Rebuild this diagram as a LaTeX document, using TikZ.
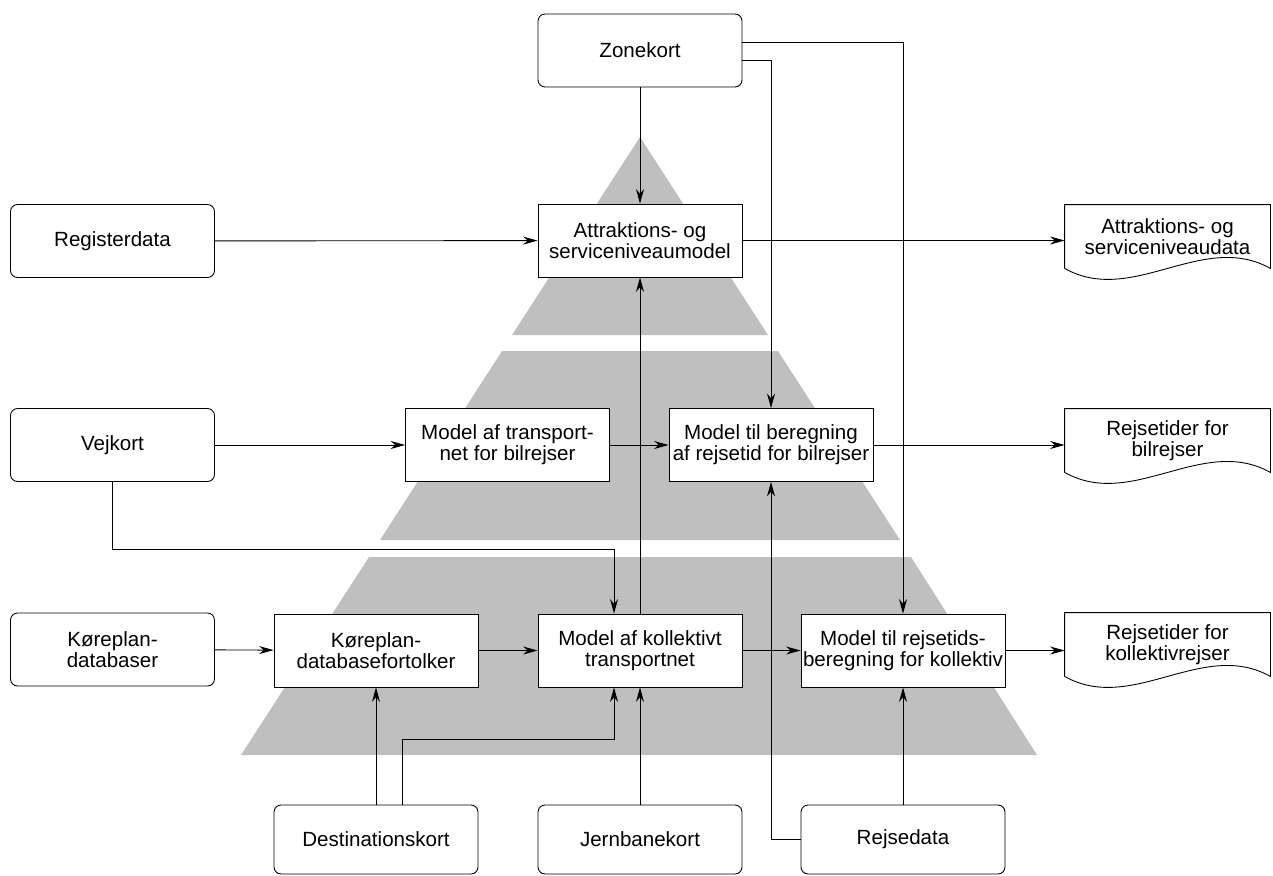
\documentclass[tikz,border=0pt]{standalone}
\usepackage{fontspec}
\setmainfont{Liberation Sans}
\usetikzlibrary{arrows.meta}

\tikzstyle{modelblock} = [rectangle, minimum width=4.08cm, minimum height=1.46cm, inner xsep=1pt, text centered, align=center, draw=black, fill=white, line width=0.5pt, font=\fontsize{11.7}{12}\selectfont]
\tikzstyle{srcblock} = [modelblock, rounded corners=4pt]
\tikzstyle{endblock} = [srcblock, minimum height=1.38cm]
\tikzstyle{docblock} = [modelblock, draw=none, fill=none, minimum width=4.1cm, minimum height=1.26cm]
\tikzstyle{band} = [fill=black!25, draw=none]
\tikzstyle{flow} = [->, >={Stealth[length=2.9mm,width=1.6mm]}, draw=black, line width=0.5pt]
\tikzstyle{lineflow} = [-, draw=black, line width=0.5pt]

\begin{document}
\begin{tikzpicture}[x=0.02cm, y=-0.02cm]
    \useasboundingbox (0,0) rectangle (1273,875);

    % pyramid
    \fill[band] (640,137) -- (768,335) -- (512,335) -- cycle;
    \fill[band] (502,351) -- (778,351) -- (900,540) -- (380,540) -- cycle;
    \fill[band] (369,557) -- (911,557) -- (1037,755) -- (241,755) -- cycle;

    \node (zone) [srcblock] at (640,50.5) {Zonekort};
    \node (reg) [srcblock] at (112.5,241) {Registerdata};
    \node (vej) [srcblock] at (112.5,445) {Vejkort};
    \node (kdb) [srcblock] at (112.5,649.5) {Køreplan-\\databaser};

    \node (attr) [modelblock] at (640,240.5) {Attraktions- og\\serviceniveaumodel};
    \node (tnet) [modelblock] at (507.5,445) {Model af transport-\\net for bilrejser};
    \node (bereg) [modelblock] at (771,445) {Model til beregning\\af rejsetid for bilrejser};
    \node (kfort) [modelblock] at (376,650.5) {Køreplan-\\databasefortolker};
    \node (koll) [modelblock] at (640,650.5) {Model af kollektivt\\transportnet};
    \node (rtid) [modelblock] at (903,650.5) {Model til rejsetids-\\beregning for kollektiv};

    \node (dest) [endblock] at (376,839.5) {Destinationskort};
    \node (jern) [endblock] at (640,839.5) {Jernbanekort};
    \node (rejs) [endblock] at (903,839.5) {Rejsedata};

    \node (docA) [docblock] at (1167.5,236.5) {Attraktions- og\\serviceniveaudata};
    \node (docB) [docblock] at (1167.5,440.5) {Rejsetider for\\bilrejser};
    \node (docC) [docblock] at (1167.5,644.5) {Rejsetider for\\kollektivrejser};
    \foreach \d in {docA,docB,docC}
        \draw[lineflow] (\d.south west) -- (\d.north west) -- (\d.north east) -- (\d.south east)
            .. controls ([xshift=-1.36cm,yshift=0.76cm]\d.south east) and ([xshift=1.36cm,yshift=-0.76cm]\d.south west) .. (\d.south west);

    \draw [flow] (zone) -- (attr);
    \draw [flow] ([yshift=0.17cm]zone.east) -| (rtid.north);
    \draw [flow] ([yshift=-0.19cm]zone.east) -| (bereg.north);

    \draw [flow] (reg) -- (attr);
    \draw [flow] (attr.east) -- (attr.east -| docA.west);
    \draw [flow] (vej) -- (tnet);
    \draw [flow] (tnet) -- (bereg);
    \draw [flow] (bereg.east) -- (bereg.east -| docB.west);
    \draw [flow] (vej.south) -- ++(0,67) -| ([xshift=-0.52cm]koll.north);
    \draw [flow] (koll) -- (attr);

    \draw [flow] (kdb) -- (kfort);
    \draw [flow] (kfort) -- (koll);
    \draw [flow] (koll) -- (rtid);
    \draw [flow] (rtid.east) -- (rtid.east -| docC.west);

    \draw [flow] (dest) -- (kfort);
    \draw [flow] ([xshift=0.52cm]dest.north) -- ++(0,-65) -| ([xshift=-0.52cm]koll.south);
    \draw [flow] (jern) -- (koll);
    \draw [flow] (rejs.west) -| (bereg.south);
    \draw [flow] (rejs) -- (rtid);
\end{tikzpicture}
\end{document}
